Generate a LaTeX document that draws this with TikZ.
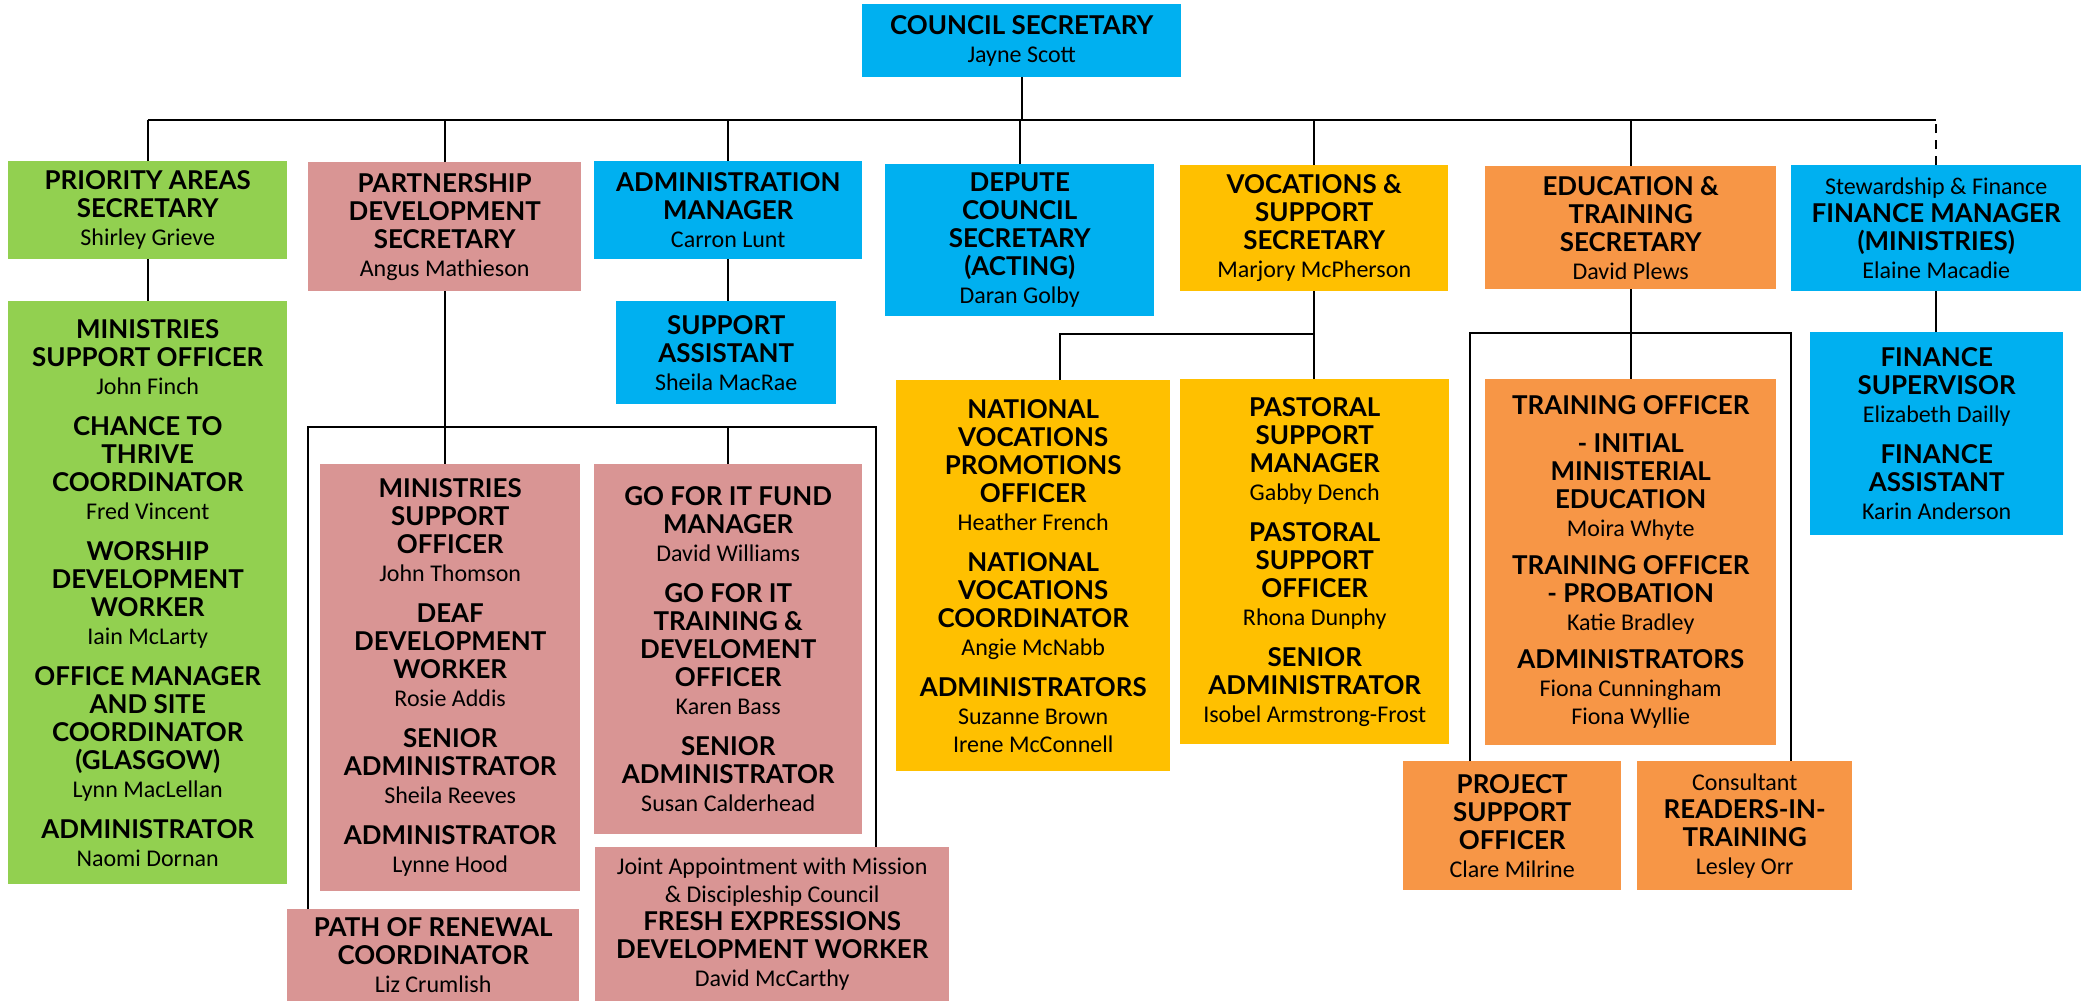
\documentclass[tikz,border=0pt]{standalone}
\usepackage{fontspec}
\setmainfont{Carlito}
\newfontfamily\rolefont{Lato}[Scale=1.08]
\usepackage{xcolor}
\usetikzlibrary{calc}
\definecolor{greenbox}{HTML}{92D050}
\definecolor{pinkbox}{HTML}{D99594}
\definecolor{bluebox}{HTML}{00B0F0}
\definecolor{goldbox}{HTML}{FFC000}
\definecolor{orangebox}{HTML}{F79646}
\tikzset{
  rolebox/.style  = {anchor=north west, inner sep=0pt, align=center,
                     font=\fontsize{24}{28}\selectfont},
  linkline/.style = {black, line width=2pt},
  dashlink/.style = {linkline, dash pattern=on 9pt off 7pt}
}
\newcommand{\role}[1]{{\rolefont\bfseries #1}}
\newcommand{\gapp}{\\[13pt]}

\begin{document}
\begin{tikzpicture}[x=1pt, y=-1pt]
  \fill[white] (0,0) rectangle (2081,1001);
  \useasboundingbox (0,0) rectangle (2081,1001);
  % top
  \node[rolebox, fill=bluebox, minimum width=319, minimum height=73] (council) at (862,4)
    {\role{COUNCIL SECRETARY}\\Jayne Scott};
  % second row
  \node[rolebox, fill=greenbox, minimum width=279, minimum height=98] (priority) at (8,161)
    {\role{PRIORITY AREAS}\\\role{SECRETARY}\\Shirley Grieve};
  \node[rolebox, fill=pinkbox, minimum width=273, minimum height=129] (partnership) at (308,162)
    {\role{PARTNERSHIP}\\\role{DEVELOPMENT}\\\role{SECRETARY}\\Angus Mathieson};
  \node[rolebox, fill=bluebox, minimum width=268, minimum height=98] (admin) at (594,161)
    {\role{ADMINISTRATION}\\\role{MANAGER}\\Carron Lunt};
  \node[rolebox, fill=bluebox, minimum width=269, minimum height=152] (depute) at (885,164)
    {\role{DEPUTE}\\\role{COUNCIL}\\\role{SECRETARY}\\\role{(ACTING)}\\Daran Golby};
  \node[rolebox, fill=goldbox, minimum width=268, minimum height=126] (vocations) at (1180,165)
    {\role{VOCATIONS \&}\\\role{SUPPORT}\\\role{SECRETARY}\\Marjory McPherson};
  \node[rolebox, fill=orangebox, minimum width=291, minimum height=123] (education) at (1485,166)
    {\role{EDUCATION \&}\\\role{TRAINING}\\\role{SECRETARY}\\David Plews};
  \node[rolebox, fill=bluebox, minimum width=290, minimum height=126] (finance) at (1791,165)
    {Stewardship \& Finance\\\role{FINANCE MANAGER}\\\role{(MINISTRIES)}\\Elaine Macadie};
  % third row
  \node[rolebox, fill=greenbox, minimum width=279, minimum height=583] (ministries) at (8,301)
    {\role{MINISTRIES}\\\role{SUPPORT OFFICER}\\John Finch\gapp
     \role{CHANCE TO}\\\role{THRIVE}\\\role{COORDINATOR}\\Fred Vincent\gapp
     \role{WORSHIP}\\\role{DEVELOPMENT}\\\role{WORKER}\\Iain McLarty\gapp
     \role{OFFICE MANAGER}\\\role{AND SITE}\\\role{COORDINATOR}\\\role{(GLASGOW)}\\Lynn MacLellan\gapp
     \role{ADMINISTRATOR}\\Naomi Dornan};
  \node[rolebox, fill=bluebox, minimum width=220, minimum height=103] (support) at (616,301)
    {\role{SUPPORT}\\\role{ASSISTANT}\\Sheila MacRae};
  \node[rolebox, fill=pinkbox, minimum width=260, minimum height=427] (supportofficer) at (320,464)
    {\role{MINISTRIES}\\\role{SUPPORT}\\\role{OFFICER}\\John Thomson\gapp
     \role{DEAF}\\\role{DEVELOPMENT}\\\role{WORKER}\\Rosie Addis\gapp
     \role{SENIOR}\\\role{ADMINISTRATOR}\\Sheila Reeves\gapp
     \role{ADMINISTRATOR}\\Lynne Hood};
  \node[rolebox, fill=pinkbox, minimum width=268, minimum height=370] (goforit) at (594,464)
    {\role{GO FOR IT FUND}\\\role{MANAGER}\\David Williams\gapp
     \role{GO FOR IT}\\\role{TRAINING \&}\\\role{DEVELOMENT}\\\role{OFFICER}\\Karen Bass\gapp
     \role{SENIOR}\\\role{ADMINISTRATOR}\\Susan Calderhead};
  \node[rolebox, fill=pinkbox, minimum width=292, minimum height=92] (renewal) at (287,909)
    {\role{PATH OF RENEWAL}\\\role{COORDINATOR}\\Liz Crumlish};
  \node[rolebox, fill=pinkbox, minimum width=354, minimum height=154] (fresh) at (595,847)
    {Joint Appointment with Mission\\\& Discipleship Council\\\role{FRESH EXPRESSIONS}\\\role{DEVELOPMENT WORKER}\\David McCarthy};
  \node[rolebox, fill=goldbox, minimum width=274, minimum height=391] (national) at (896,380)
    {\role{NATIONAL}\\\role{VOCATIONS}\\\role{PROMOTIONS}\\\role{OFFICER}\\Heather French\gapp
     \role{NATIONAL}\\\role{VOCATIONS}\\\role{COORDINATOR}\\Angie McNabb\gapp
     \role{ADMINISTRATORS}\\Suzanne Brown\\Irene McConnell};
  \node[rolebox, fill=goldbox, minimum width=269, minimum height=365] (pastoral) at (1180,379)
    {\role{PASTORAL}\\\role{SUPPORT}\\\role{MANAGER}\\Gabby Dench\gapp
     \role{PASTORAL}\\\role{SUPPORT}\\\role{OFFICER}\\Rhona Dunphy\gapp
     \role{SENIOR}\\\role{ADMINISTRATOR}\\Isobel Armstrong-Frost};
  \node[rolebox, fill=orangebox, minimum width=291, minimum height=366] (training) at (1485,379)
    {\role{TRAINING OFFICER}\\[10pt]
     \role{- INITIAL}\\\role{MINISTERIAL}\\\role{EDUCATION}\\Moira Whyte\\[10pt]
     \role{TRAINING OFFICER}\\\role{- PROBATION}\\Katie Bradley\\[10pt]
     \role{ADMINISTRATORS}\\Fiona Cunningham\\Fiona Wyllie};
  \node[rolebox, fill=bluebox, minimum width=253, minimum height=203] (finsupervisor) at (1810,332)
    {\role{FINANCE}\\\role{SUPERVISOR}\\Elizabeth Dailly\gapp
     \role{FINANCE}\\\role{ASSISTANT}\\Karin Anderson};
  \node[rolebox, fill=orangebox, minimum width=218, minimum height=129] (project) at (1403,761)
    {\role{PROJECT}\\\role{SUPPORT}\\\role{OFFICER}\\Clare Milrine};
  \node[rolebox, fill=orangebox, minimum width=215, minimum height=129] (readers) at (1637,761)
    {Consultant\\\role{READERS-IN-}\\\role{TRAINING}\\Lesley Orr};
  % connectors
  \coordinate (bar) at (0,120);
  \coordinate (pdL) at (308,427);
  \coordinate (pdR) at (876,427);
  \coordinate (vsL) at (1060,334);
  \coordinate (esL) at (1470,333);
  \coordinate (esR) at (1791,333);
  \draw[linkline] (council.south) -- (council.south |- bar);
  \draw[linkline] (priority.north |- bar) -- (finance.north |- bar);
  \foreach \n in {priority,partnership,admin,depute,vocations,education}
    \draw[linkline] (\n.north) -- (\n.north |- bar);
  \draw[dashlink] (finance.north) -- (finance.north |- bar);
  \draw[linkline] (priority.south) -- (ministries.north);
  \draw[linkline] (admin.south) -- (support.north -| admin.south);
  \draw[linkline] (partnership.south) -- (supportofficer.north -| partnership.south);
  \draw[linkline] (renewal.north -| pdL) -- (pdL) -- (pdR) -- (fresh.north -| pdR);
  \draw[linkline] (goforit.north) -- (goforit.north |- pdL);
  \draw[linkline] (vocations.south) -- (vocations.south |- vsL) -- (vsL) -- (national.north -| vsL);
  \draw[linkline] (vocations.south |- vsL) -- (pastoral.north -| vocations.south);
  \draw[linkline] (education.south) -- (training.north -| education.south);
  \draw[linkline] (project.north -| esL) -- (esL) -- (esR) -- (readers.north -| esR);
  \draw[linkline] (finance.south) -- (finsupervisor.north -| finance.south);
\end{tikzpicture}
\end{document}
